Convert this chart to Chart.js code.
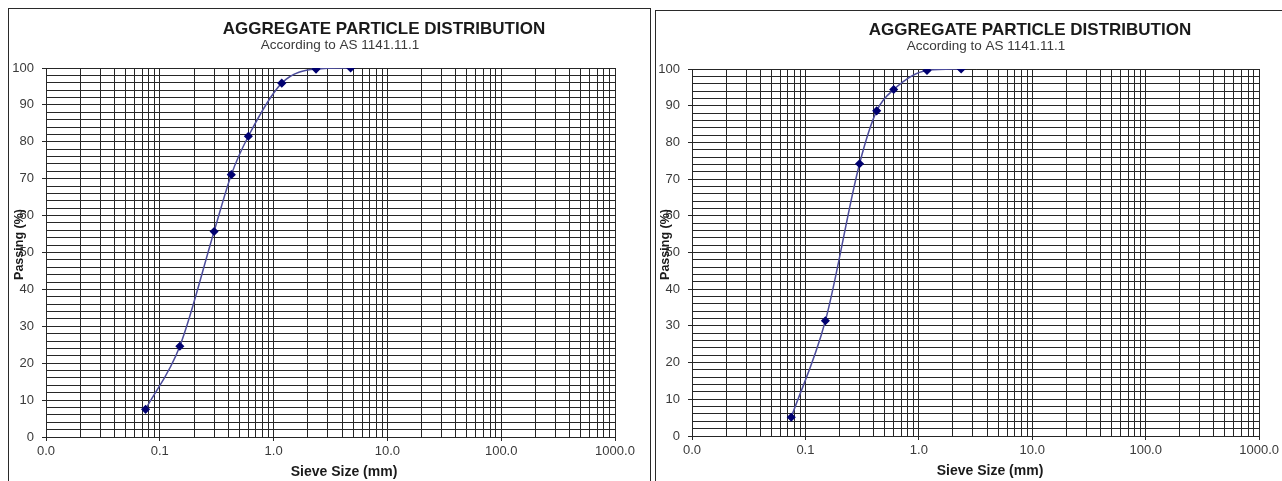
<!DOCTYPE html>
<html>
<head>
<meta charset="utf-8">
<title>Aggregate Particle Distribution</title>
<script src="https://cdn.jsdelivr.net/npm/chart.js@4.4.1/dist/chart.umd.min.js"></script>
<style>
    html, body { margin: 0; padding: 0; background: #fff; overflow: hidden; }
    body { width: 1282px; height: 481px; position: relative; }
    .panel { position: absolute; border: 1.5px solid #2a2a2a; box-sizing: border-box; }
    #panelA { left: 8px; top: 8px; width: 643px; height: 520px; }
    #panelB { left: 655px; top: 10px; width: 660px; height: 520px; }
    canvas { position: absolute; top: 0; }
    #chartA { left: 0; }
    #chartB { left: 650px; }
</style>
</head>
<body>
<div class="panel" id="panelA"></div>
<div class="panel" id="panelB"></div>
<canvas id="chartA" width="650" height="481"></canvas>
<canvas id="chartB" width="632" height="481"></canvas>

<script>
// Datos
const sieveSizesA = [0.075, 0.15, 0.3, 0.425, 0.6, 1.18, 2.36, 4.75];
const passingA = [7.5, 24.6, 55.7, 71.1, 81.5, 95.9, 99.7, 100];

const sieveSizesB = [0.075, 0.15, 0.3, 0.425, 0.6, 1.18, 2.36];
const passingB = [5.1, 31.4, 74.2, 88.6, 94.4, 99.6, 100];

const xMajorTicks = [0.01, 0.1, 1, 10, 100, 1000];
const xTickLabels = ['0.0', '0.1', '1.0', '10.0', '100.0', '1000.0'];
const yTickLabels = [0, 10, 20, 30, 40, 50, 60, 70, 80, 90, 100];

const chartTitle = 'AGGREGATE PARTICLE DISTRIBUTION';
const chartSubtitle = 'According to AS 1141.11.1';
const xAxisTitle = 'Sieve Size (mm)';
const yAxisTitle = 'Passing (%)';

const Charts = (function() {
    'use strict';

    const COLORS = {
        grid: '#262626',
        text: '#3a3a3a',
        title: '#1a1a1a',
        line: '#4d4d9c',
        point: '#000070'
    };
    const FONT = "'Liberation Sans', Arial, sans-serif";

    let chartInstances = {};

    /**
     * Lineas del grid log: 1..9 por decada
     */
    function logGridValues() {
        const values = [];
        for (let i = 0; i < xMajorTicks.length - 1; i++) {
            for (let k = 1; k <= 9; k++) {
                values.push(Number((k * xMajorTicks[i]).toPrecision(4)));
            }
        }
        values.push(xMajorTicks[xMajorTicks.length - 1]);
        return values;
    }

    function majorIndex(value) {
        return xMajorTicks.findIndex(m => Math.abs(m - value) / m < 1e-6);
    }

    /**
     * Titulos dibujados relativos al area del grafico
     */
    const titlesPlugin = {
        id: 'titles',
        afterDraw(chart) {
            const ctx = chart.ctx;
            const area = chart.chartArea;
            ctx.save();
            ctx.textAlign = 'center';
            ctx.textBaseline = 'alphabetic';

            ctx.fillStyle = COLORS.title;
            ctx.font = 'bold 17px ' + FONT;
            ctx.fillText(chartTitle, area.left + 338, area.top - 34);

            ctx.fillStyle = COLORS.text;
            ctx.font = '13.5px ' + FONT;
            ctx.fillText(chartSubtitle, area.left + 294, area.top - 19);

            ctx.fillStyle = COLORS.title;
            ctx.font = 'bold 14px ' + FONT;
            ctx.fillText(xAxisTitle, area.left + 298, area.bottom + 39);

            ctx.translate(area.left - 26, (area.top + area.bottom) / 2 - 8);
            ctx.rotate(-Math.PI / 2);
            ctx.textBaseline = 'middle';
            ctx.font = 'bold 12.5px ' + FONT;
            ctx.fillText(yAxisTitle, 0, 0);
            ctx.restore();
        }
    };

    /**
     * Crea un grafico de granulometria
     */
    function createChart(id, sizes, passing, box) {
        const ctx = document.getElementById(id);
        if (!ctx) return;

        const gridValues = logGridValues();

        chartInstances[id] = new Chart(ctx, {
            type: 'line',
            data: {
                datasets: [{
                    data: sizes.map((s, i) => ({ x: s, y: passing[i] })),
                    borderColor: COLORS.line,
                    borderWidth: 1.5,
                    cubicInterpolationMode: 'monotone',
                    pointStyle: 'rectRot',
                    pointRadius: 3.5,
                    pointBackgroundColor: COLORS.point,
                    pointBorderColor: COLORS.point,
                    fill: false
                }]
            },
            options: {
                responsive: false,
                animation: false,
                layout: {
                    padding: { left: 0, top: box.top, right: box.right, bottom: 0 }
                },
                plugins: {
                    legend: { display: false },
                    tooltip: { enabled: false }
                },
                scales: {
                    x: {
                        type: 'logarithmic',
                        min: xMajorTicks[0],
                        max: xMajorTicks[xMajorTicks.length - 1],
                        afterBuildTicks: scale => {
                            scale.ticks = gridValues.map(v => ({ value: v }));
                        },
                        afterFit: scale => { scale.height = box.bottom; },
                        grid: {
                            color: COLORS.grid,
                            lineWidth: 1,
                            tickLength: 4,
                            tickColor: c => (c.tick && majorIndex(c.tick.value) >= 0) ? COLORS.grid : 'rgba(0,0,0,0)'
                        },
                        border: { color: COLORS.grid },
                        ticks: {
                            autoSkip: false,
                            maxRotation: 0,
                            padding: 3,
                            color: COLORS.text,
                            font: { family: FONT, size: 13 },
                            callback: value => {
                                const i = majorIndex(value);
                                return i >= 0 ? xTickLabels[i] : '';
                            }
                        }
                    },
                    y: {
                        min: yTickLabels[0],
                        max: yTickLabels[yTickLabels.length - 1],
                        afterFit: scale => { scale.width = box.left; },
                        grid: {
                            color: COLORS.grid,
                            lineWidth: 1,
                            tickLength: 4,
                            tickColor: c => (c.tick && yTickLabels.includes(c.tick.value)) ? COLORS.grid : 'rgba(0,0,0,0)'
                        },
                        border: { color: COLORS.grid },
                        ticks: {
                            stepSize: 2,
                            autoSkip: false,
                            padding: 8,
                            color: COLORS.text,
                            font: { family: FONT, size: 13 },
                            callback: value => yTickLabels.includes(value) ? String(value) : ''
                        }
                    }
                }
            },
            plugins: [titlesPlugin]
        });
    }

    function init() {
        Chart.defaults.font.family = FONT;
        createChart('chartA', sieveSizesA, passingA, { left: 46, top: 68, right: 35, bottom: 44 });
        createChart('chartB', sieveSizesB, passingB, { left: 42, top: 69, right: 22, bottom: 45 });
    }

    return {
        init: init,
        COLORS: COLORS
    };

})();

document.addEventListener('DOMContentLoaded', Charts.init);
</script>
</body>
</html>
